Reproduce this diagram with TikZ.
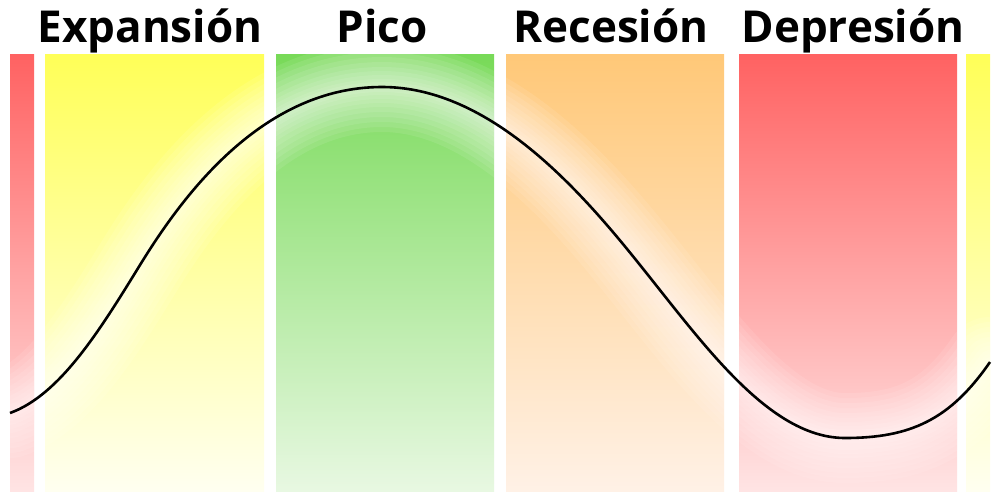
\documentclass[tikz,border=0pt]{standalone}
\usepackage{fontspec}
\setmainfont{Open Sans}
\begin{document}
\begin{tikzpicture}[x=1pt,y=-1pt,
  band/.style={draw=none},
  lbl/.style={font=\fontsize{44}{44}\selectfont\bfseries, anchor=base, inner sep=0pt},
  halo/.style={draw=white, line width=#1, line cap=round, line join=round, opacity=0.09},
  curve/.style={draw=black, line width=2.6pt}]
\definecolor{redT}{HTML}{FF6262}\definecolor{redB}{HTML}{FFE4E4}
\definecolor{yelT}{HTML}{FFFF58}\definecolor{yelB}{HTML}{FFFFF0}
\definecolor{grnT}{HTML}{78DA58}\definecolor{grnB}{HTML}{E8F8E2}
\definecolor{orgT}{HTML}{FFC878}\definecolor{orgB}{HTML}{FFF1E6}
\useasboundingbox (0,0) rectangle (1000,500);
\fill[white] (0,0) rectangle (1000,500);
\shade[band, top color=redT, bottom color=redB] (10,55) rectangle (34,491);
\shade[band, top color=yelT, bottom color=yelB] (45,55) rectangle (264,491);
\shade[band, top color=grnT, bottom color=grnB] (276,55) rectangle (494,491);
\shade[band, top color=orgT, bottom color=orgB] (506,55) rectangle (724,491);
\shade[band, top color=redT, bottom color=redB] (739,55) rectangle (957,491);
\shade[band, top color=yelT, bottom color=yelB] (966,55) rectangle (990,491);
\def\cyc{(10,413) .. controls (60,395) and (100,330) .. (140,265)
  .. controls (180,200) and (260,87) .. (382,87)
  .. controls (490,87) and (580,190) .. (640,265)
  .. controls (705,346) and (770,438) .. (845,438)
  .. controls (910,438) and (950,420) .. (990,362)}
\begin{scope}
\clip (10,55) rectangle (990,491);
\foreach \w in {90,80,70,60,50,40,32,24,16,10}{
  \draw[halo=\w pt] \cyc;
}
\end{scope}
\draw[curve] \cyc;
\node[lbl] (exp) at (150,43) {Expansión};
\node[lbl] (pico) at (382,43) {Pico};
\node[lbl] (rec) at (611,43) {Recesión};
\node[lbl] (dep) at (853,43) {Depresión};
\end{tikzpicture}
\end{document}
